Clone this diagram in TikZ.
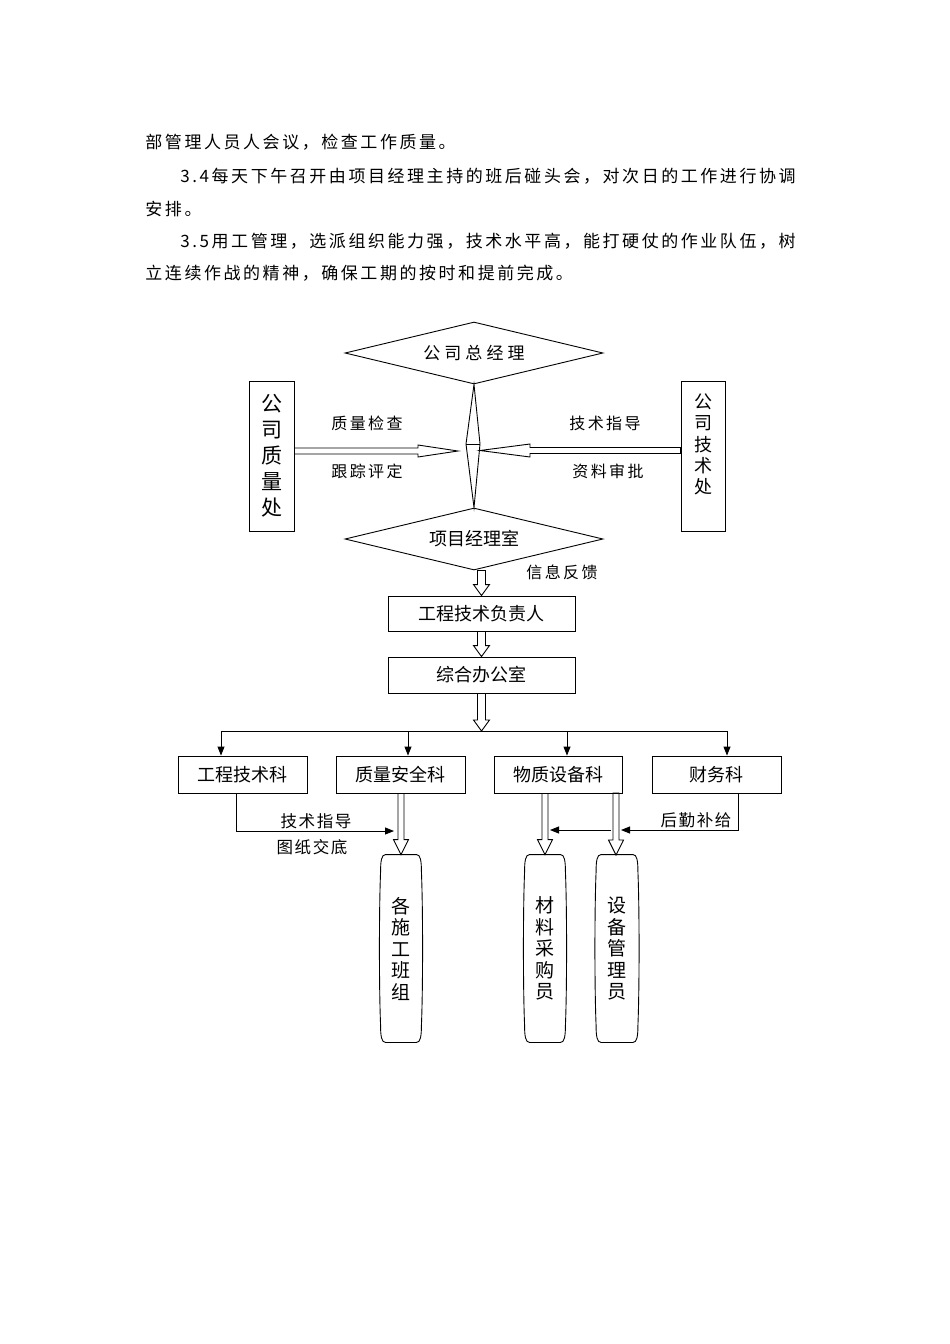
\documentclass[tikz,border=0pt]{standalone}
\usepackage{fontspec}
\setmainfont{Noto Sans CJK SC}
\usetikzlibrary{shapes.geometric,arrows.meta,calc}
\newcommand\hdown[5]{%
  \draw let \p1=(#1), \p2=(#2) in
    (\x1-#3pt,\y1) -- (\x1-#3pt,\y2+#5pt) -- (\x1-#4pt,\y2+#5pt) -- (\x1,\y2)
    -- (\x1+#4pt,\y2+#5pt) -- (\x1+#3pt,\y2+#5pt) -- (\x1+#3pt,\y1) -- cycle;}
\newcommand\hhor[6]{% start, end, shaft half, head half, head length, direction (+1 right, -1 left)
  \draw let \p1=(#1), \p2=(#2) in
    (\x1,\y1+#3pt) -- (\x2-#6*#5pt,\y1+#3pt) -- (\x2-#6*#5pt,\y1+#4pt) -- (\x2,\y1)
    -- (\x2-#6*#5pt,\y1-#4pt) -- (\x2-#6*#5pt,\y1-#3pt) -- (\x1,\y1-#3pt) -- cycle;}
\newcommand\ovalpath[1]{%
  \draw ($(#1.north west)+(5,0)$) -- ($(#1.north east)+(-5,0)$)
    .. controls ($(#1.north east)+(-1,0)$) and ($(#1.north east)+(0,6)$) .. ($(#1.north east)+(0,18)$)
    .. controls ($(#1.east)+(1.5,-40)$) and ($(#1.east)+(1.5,40)$) .. ($(#1.south east)+(0,-18)$)
    .. controls ($(#1.south east)+(0,-6)$) and ($(#1.south east)+(-1,0)$) .. ($(#1.south east)+(-5,0)$)
    -- ($(#1.south west)+(5,0)$)
    .. controls ($(#1.south west)+(1,0)$) and ($(#1.south west)+(0,-6)$) .. ($(#1.south west)+(0,-18)$)
    .. controls ($(#1.west)+(-1.5,40)$) and ($(#1.west)+(-1.5,-40)$) .. ($(#1.north west)+(0,18)$)
    .. controls ($(#1.north west)+(0,6)$) and ($(#1.north west)+(1,0)$) .. cycle;}
\begin{document}
\begin{tikzpicture}[x=1pt,y=-1pt,line width=0.9pt,
  para/.style={anchor=west,inner sep=0,font=\fontsize{17}{19}\selectfont\addfontfeatures{LetterSpace=15}},
  box/.style={draw,minimum height=36pt,inner sep=0,font=\fontsize{18}{20}\selectfont},
  dia/.style={draw,diamond,minimum width=258pt,minimum height=62pt,inner sep=0,aspect=4},
  lbl/.style={inner sep=0,font=\fontsize{16}{18}\selectfont\addfontfeatures{LetterSpace=15}},
  vtext/.style={align=center,inner sep=0},
  oval/.style={minimum width=40pt,minimum height=187pt,inner sep=0,align=center,font=\fontsize{19}{21.5}\selectfont},
  tri/.style={-{Triangle[length=9pt,width=7pt]}}]
\useasboundingbox (0,0) rectangle (950,1344);
\fill[white] (0,0) rectangle (950,1344);
% paragraph text
\node[para] (p1) at (145,142) {部管理人员人会议，检查工作质量。};
\node[para] (p2) at (180,176) {3.4每天下午召开由项目经理主持的班后碰头会，对次日的工作进行协调};
\node[para] (p3) at (145,209) {安排。};
\node[para] (p4) at (180,241) {3.5用工管理，选派组织能力强，技术水平高，能打硬仗的作业队伍，树};
\node[para] (p5) at (145,273) {立连续作战的精神，确保工期的按时和提前完成。};
% top part
\node[dia,font=\fontsize{17}{20}\selectfont\addfontfeatures{LetterSpace=24}] (d1) at (474,353) {公司总经理};
\node[dia,font=\fontsize{18}{20}\selectfont] (d2) at (474,539) {项目经理室};
\coordinate (tdl) at (466,444);
\coordinate (tdr) at (480,444);
\draw (d1.south) -- (tdl) -- (d2.north) -- (tdr) -- cycle;
\draw (tdl) -- (tdr);
\node[draw,minimum width=45pt,minimum height=150pt,inner sep=0] (qbox) at (271.5,456) {};
\node[vtext,font=\fontsize{21}{26}\selectfont] (qtxt) at (qbox.center) {公\\司\\质\\量\\处};
\node[draw,minimum width=44pt,minimum height=150pt,inner sep=0] (tbox) at (703,456) {};
\node[vtext,font=\fontsize{18}{21.3}\selectfont] (ttxt) at (703,444.5) {公\\司\\技\\术\\处};
\coordinate (tipl) at (458,451);
\coordinate (tipr) at (480,450.5);
\hhor{qbox.east |- tipl}{tipl}{3}{6}{40}{1}
\hhor{tbox.west |- tipr}{tipr}{3}{6.5}{50}{-1}
\node[lbl] (l1) at (367,423) {质量检查};
\node[lbl] (l2) at (367,471) {跟踪评定};
\node[lbl] (l3) at (605,423) {技术指导};
\node[lbl] (l4) at (608,471) {资料审批};
\node[lbl] (l5) at (562,572) {信息反馈};
% middle chain
\node[box,minimum width=187pt,minimum height=35pt] (b1) at (481.5,613.5) {工程技术负责人};
\node[box,minimum width=187pt] (b2) at (481.5,675) {综合办公室};
\coordinate (bus) at (481.5,731);
\hdown{b1.north |- d2.south}{b1.north}{4}{8}{11}
\hdown{b1.south}{b2.north}{4}{8}{11}
\hdown{b2.south}{bus}{4}{8}{11}
\coordinate (bl) at (221,731);
\coordinate (br) at (727,731);
\draw (bl) -- (br);
% row of departments
\node[box,minimum width=129pt,minimum height=37pt] (k1) at (242.5,774.5) {工程技术科};
\node[box,minimum width=129pt,minimum height=37pt] (k2) at (400.5,774.5) {质量安全科};
\node[box,minimum width=128pt,minimum height=37pt] (k3) at (558,774.5) {物质设备科};
\node[box,minimum width=129pt,minimum height=37pt] (k4) at (716.5,774.5) {财务科};
\coordinate (a1) at (221,731);
\coordinate (a2) at (408,731);
\coordinate (a3) at (567,731);
\coordinate (a4) at (727,731);
\draw[tri] (a1) -- (a1 |- k1.north);
\draw[tri] (a2) -- (a2 |- k2.north);
\draw[tri] (a3) -- (a3 |- k3.north);
\draw[tri] (a4) -- (a4 |- k4.north);
% ovals
\node[oval] (o1) at (401,948.5) {各\\施\\工\\班\\组};
\node[oval] (o2) at (545,948.5) {材\\料\\采\\购\\员};
\node[oval,minimum width=41pt] (o3) at (617,948.5) {设\\备\\管\\理\\员};
\ovalpath{o1}
\ovalpath{o2}
\ovalpath{o3}
\hdown{o1.north |- k2.south}{o1.north}{3}{7.5}{15}
\hdown{o2.north |- k3.south}{o2.north}{3}{7.5}{15}
\coordinate (s3) at (616,793);
\coordinate (e3) at (616,855);
\hdown{s3}{e3}{3}{7.5}{15}
% side connectors
\coordinate (c1) at (236,793);
\coordinate (c1t) at (394,831);
\draw[tri] (c1) |- (c1t);
\coordinate (c4) at (738,793);
\coordinate (c4t) at (621,830);
\draw[tri] (c4) |- (c4t);
\coordinate (c5s) at (611,830);
\coordinate (c5t) at (550,830);
\draw[tri] (c5s) -- (c5t);
\node[lbl,font=\fontsize{16.5}{18}\selectfont\addfontfeatures{LetterSpace=10}] (l6) at (316,821) {技术指导};
\node[lbl,font=\fontsize{16.5}{18}\selectfont\addfontfeatures{LetterSpace=10}] (l7) at (312,847) {图纸交底};
\node[lbl,font=\fontsize{16.5}{18}\selectfont\addfontfeatures{LetterSpace=10}] (l8) at (696,820) {后勤补给};
\end{tikzpicture}
\end{document}
